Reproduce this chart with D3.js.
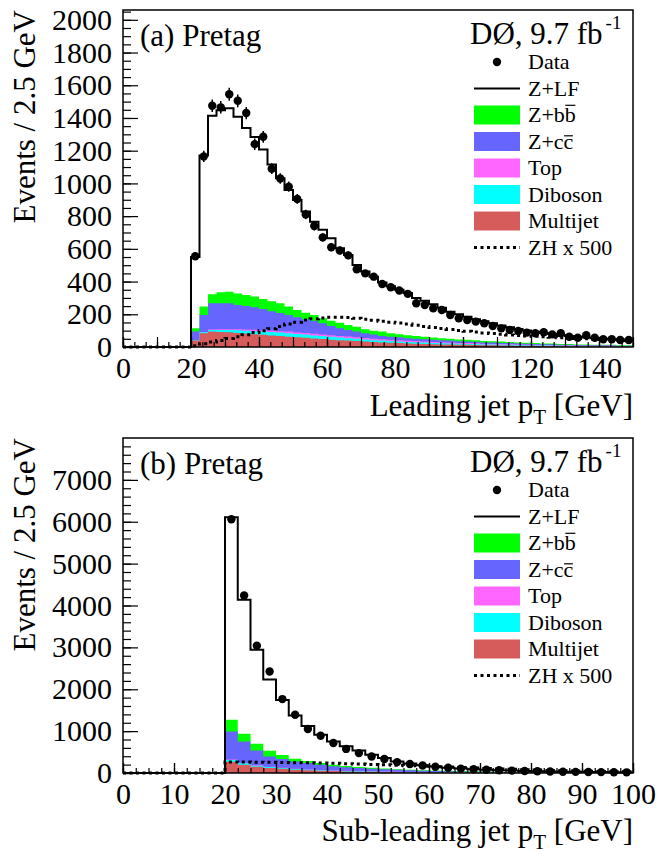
<!DOCTYPE html>
<html>
<head>
<meta charset="utf-8">
<script src="https://cdn.jsdelivr.net/npm/d3@7"></script>
<style>
  html, body { margin: 0; padding: 0; background: #fff; }
  svg { display: block; }
</style>
</head>
<body>
<svg id="chart" width="660" height="856"></svg>
<script>
// ---- Leading jet pT: 2.5 GeV bins, 0-150 GeV ----
const binWidth = 2.5;
const leadData = [0,0,0,0,0,0,0,0,
  555,1165,1475,1465,1545,1505,1430,1240,1285,1090,1030,980,905,810,740,670,610,590,560,475,450,430,
  385,365,345,325,267,257,236,226,196,175,165,155,145,128,114,104,98,88,84,90,77,84,63,57,72,57,47,47,43,43];
const leadMultijet = [0,0,0,0,0,0,0,0,
  39,84,94,92,90,86,82,78,75,71,67,63,59,56,52,49,45,42,39,36,33,30,
  28,26,24,22,20,19,17,16,15,14,13,12,11,10,9,9,8,7,7,6,6,5,5,4,4,4,3,3,3,3];
const leadDiboson = [0,0,0,0,0,0,0,0,
  3,6,10,12,14,16,18,19,20,21,21,21,20,20,19,18,17,16,15,14,13,12,
  11,10,10,9,9,8,8,7,7,6,6,6,5,5,5,4,4,4,3,3,3,3,3,2,2,2,2,2,2,2];
const leadTop = [0,0,0,0,0,0,0,0,
  1,2,3,4,5,6,7,8,8,9,9,10,10,10,10,10,10,10,10,9,9,9,
  8,8,8,7,7,7,6,6,6,5,5,5,4,4,4,4,3,3,3,3,3,2,2,2,2,2,2,2,1,1];
const leadZcc = [0,0,0,0,0,0,0,0,
  51,104,160,159,158,149,144,138,129,117,111,102,93,83,80,68,56,46,40,35,29,26,
  20,19,17,16,15,14,13,12,11,10,10,9,8,8,7,7,6,6,5,5,5,4,4,4,3,3,3,3,2,2];
const leadZbb = [0,0,0,0,0,0,0,0,
  20,51,55,68,71,70,67,65,62,62,59,51,44,41,35,30,33,35,30,30,24,23,
  27,21,19,18,16,15,14,13,12,11,10,10,9,8,8,7,7,6,6,5,5,5,4,4,4,3,3,3,3,3];
const leadZLF = [0,0,0,0,0,0,0,0,
  436,923,1091,1112,1122,1081,1020,975,913,836,765,713,673,618,570,541,504,455,429,378,353,330,
  301,288,272,258,233,219,204,186,165,154,141,128,121,110,99,89,82,75,69,64,58,55,50,47,43,40,37,34,33,30];
const leadZH = [0,0,0,0,0,0,0,0,
  8,20,30,40,52,62,75,88,100,112,125,140,152,165,172,178,182,182,180,176,170,164,
  158,152,146,140,133,126,119,113,107,101,96,91,86,82,78,74,71,68,65,62,59,57,55,52,50,48,46,44,42,40];

// ---- Sub-leading jet pT: 2.5 GeV bins, 0-100 GeV ----
const subData = [0,0,0,0,0,0,0,0,
  6060,4240,3040,2425,1765,1390,1050,890,715,575,475,395,335,260,215,180,150,125,105,90,
  76,65,56,48,42,36,31,27,24,21,18,16];
const subMultijet = [0,0,0,0,0,0,0,0,
  270,200,150,120,100,80,65,55,45,38,32,27,23,20,17,15,13,11,10,9,8,7,6,5,5,4,4,3,3,3,2,2];
const subDiboson = [0,0,0,0,0,0,0,0,
  40,30,25,22,18,16,14,12,10,9,8,7,6,5,5,4,4,3,3,3,2,2,2,2,2,1,1,1,1,1,1,1];
const subTop = [0,0,0,0,0,0,0,0,
  10,8,8,8,8,8,7,7,6,6,5,5,4,4,4,3,3,3,3,2,2,2,2,2,1,1,1,1,1,1,1,1];
const subZcc = [0,0,0,0,0,0,0,0,
  673,517,357,247,208,173,153,125,99,87,75,64,55,46,39,33,28,24,20,17,15,13,11,10,9,8,7,6,5,5,4,4];
const subZbb = [0,0,0,0,0,0,0,0,
  279,183,160,135,95,62,45,40,36,30,25,22,20,17,15,13,11,10,9,8,7,6,5,5,4,4,3,3,3,2,2,2];
const subZLF = [0,0,0,0,0,0,0,0,
  4838,3198,2243,1703,1312,1034,836,675,556,466,395,312,250,183,145,118,95,77,63,52,
  44,37,31,25,22,19,16,14,11,9,9,7];
const subZH = [0,0,0,0,0,0,0,0,
  265,262,258,254,250,246,242,236,230,222,214,205,195,185,174,163,152,141,130,119,
  108,98,88,79,70,62,55,48,42,37,32,28];

// ---- Axis tick values ----
const leadYTicks = [0,200,400,600,800,1000,1200,1400,1600,1800,2000];
const leadXTicks = [0,20,40,60,80,100,120,140];
const subYTicks = [0,1000,2000,3000,4000,5000,6000,7000];
const subXTicks = [0,10,20,30,40,50,60,70,80,90,100];

// ---- Legend ----
const legendEntries = [
  {key: 'data', label: 'Data'},
  {key: 'zlf', label: 'Z+LF'},
  {key: 'zbb', label: 'Z+bb', bar: 'b'},
  {key: 'zcc', label: 'Z+cc', bar: 'c'},
  {key: 'top', label: 'Top'},
  {key: 'diboson', label: 'Diboson'},
  {key: 'multijet', label: 'Multijet'},
  {key: 'zh', label: 'ZH x 500'}
];

const FONT = "'Liberation Serif','Times New Roman',Times,serif";
const colors = {
  multijet: '#d65b5b', diboson: '#00ffff', top: '#ff66ff',
  zcc: '#6666ff', zbb: '#00ff00', zlf: '#ffffff'
};
const stackKeys = ['multijet', 'diboson', 'top', 'zcc', 'zbb', 'zlf'];

const svg = d3.select('#chart');

const panels = [
  {
    tag: '(a) Pretag', xTitle: 'Leading jet p', xMax: 150, yMax: 2060,
    yTop: 10, yBottom: 347,
    data: leadData, multijet: leadMultijet, diboson: leadDiboson, top: leadTop,
    zcc: leadZcc, zbb: leadZbb, zlf: leadZLF, zh: leadZH,
    yTicks: leadYTicks, yMinorStep: 50, xTicks: leadXTicks, xMidStep: 10, xMinorStep: 10 / 3,
    xTitleY: 416
  },
  {
    tag: '(b) Pretag', xTitle: 'Sub-leading jet p', xMax: 100, yMax: 8000,
    yTop: 438, yBottom: 773,
    data: subData, multijet: subMultijet, diboson: subDiboson, top: subTop,
    zcc: subZcc, zbb: subZbb, zlf: subZLF, zh: subZH,
    yTicks: subYTicks, yMinorStep: 200, xTicks: subXTicks, xMidStep: 10, xMinorStep: 2.5,
    xTitleY: 841
  }
];

function drawPanel(p) {
  const g = svg.append('g');
  const left = 123, right = 633;
  const x = d3.scaleLinear().domain([0, p.xMax]).range([left, right]);
  const y = d3.scaleLinear().domain([0, p.yMax]).range([p.yBottom, p.yTop]);
  const n = p.data.length;
  const edges = d3.range(n + 1).map(i => i * binWidth);

  // stacked backgrounds
  const rows = p.data.map((_, i) => {
    const r = {};
    stackKeys.forEach(k => { r[k] = p[k][i]; });
    return r;
  });
  const series = d3.stack().keys(stackKeys)(rows);
  const area = d3.area().curve(d3.curveStepAfter)
    .x(d => x(d.e)).y0(y(0)).y1(d => y(d.v));
  const stepLine = d3.line().curve(d3.curveStepAfter)
    .x(d => x(d.e)).y(d => y(d.v));
  const edgePts = vals => edges.map((e, i) => ({e, v: vals[Math.min(i, n - 1)]}));

  series.slice().reverse().forEach(s => {
    g.append('path')
      .attr('d', area(edgePts(s.map(d => d[1]))))
      .attr('fill', colors[s.key]);
  });

  // total prediction outline
  const total = series[series.length - 1].map(d => d[1]);
  g.append('path')
    .attr('d', stepLine(edgePts(total)))
    .attr('fill', 'none').attr('stroke', '#000').attr('stroke-width', 2);

  // ZH signal (scaled)
  g.append('path')
    .attr('d', stepLine(edgePts(p.zh)))
    .attr('fill', 'none').attr('stroke', '#000').attr('stroke-width', 3)
    .attr('stroke-dasharray', '3,3.5');

  // data points with statistical error bars
  const pts = p.data.map((v, i) => ({c: (i + 0.5) * binWidth, v})).filter(d => d.v > 0);
  g.append('g').selectAll('line').data(pts).join('line')
    .attr('x1', d => x(d.c)).attr('x2', d => x(d.c))
    .attr('y1', d => y(d.v - Math.sqrt(d.v))).attr('y2', d => y(d.v + Math.sqrt(d.v)))
    .attr('stroke', '#000').attr('stroke-width', 1.5);
  g.append('g').selectAll('circle').data(pts).join('circle')
    .attr('cx', d => x(d.c)).attr('cy', d => y(d.v)).attr('r', 4.2)
    .attr('fill', '#000');

  // frame
  g.append('rect')
    .attr('x', left).attr('y', p.yTop)
    .attr('width', right - left).attr('height', p.yBottom - p.yTop)
    .attr('fill', 'none').attr('stroke', '#000').attr('stroke-width', 1.5);

  // axes
  const styleAxis = sel => {
    sel.select('.domain').remove();
    sel.selectAll('line').attr('stroke', '#000').attr('stroke-width', 1.2);
    sel.selectAll('text').attr('font-family', FONT).attr('font-size', 30).attr('fill', '#000');
  };
  g.append('g').attr('transform', `translate(${left},0)`)
    .call(d3.axisLeft(y).tickValues(d3.range(0, p.yMax, p.yMinorStep))
      .tickSizeInner(-8).tickSizeOuter(0).tickFormat(''))
    .call(styleAxis);
  g.append('g').attr('transform', `translate(${left},0)`)
    .call(d3.axisLeft(y).tickValues(p.yTicks)
      .tickSizeInner(-15).tickSizeOuter(0).tickPadding(11).tickFormat(d3.format('d')))
    .call(styleAxis);

  g.append('g').attr('transform', `translate(0,${p.yBottom})`)
    .call(d3.axisBottom(x).tickValues(d3.range(0, p.xMax + 0.001, p.xMinorStep))
      .tickSizeInner(-5).tickSizeOuter(0).tickFormat(''))
    .call(styleAxis);
  g.append('g').attr('transform', `translate(0,${p.yBottom})`)
    .call(d3.axisBottom(x).tickValues(d3.range(0, p.xMax + 0.001, p.xMidStep))
      .tickSizeInner(-10).tickSizeOuter(0).tickFormat(''))
    .call(styleAxis);
  g.append('g').attr('transform', `translate(0,${p.yBottom})`)
    .call(d3.axisBottom(x).tickValues(p.xTicks)
      .tickSizeInner(-10).tickSizeOuter(0).tickPadding(10).tickFormat(d3.format('d')))
    .call(styleAxis);

  // axis titles
  g.append('text')
    .attr('transform', `translate(35,${p.yTop}) rotate(-90)`)
    .attr('text-anchor', 'end')
    .attr('font-family', FONT).attr('font-size', 31)
    .text('Events / 2.5 GeV');

  const xt = g.append('text')
    .attr('x', right).attr('y', p.xTitleY)
    .attr('text-anchor', 'end')
    .attr('font-family', FONT).attr('font-size', 31);
  xt.append('tspan').text(p.xTitle);
  xt.append('tspan').attr('font-size', 21).attr('dy', 8).text('T');
  xt.append('tspan').attr('dy', -8).text(' [GeV]');

  // panel tag
  g.append('text')
    .attr('x', 140).attr('y', p.yTop + 36)
    .attr('font-family', FONT).attr('font-size', 31)
    .text(p.tag);

  // experiment label
  const ex = g.append('text')
    .attr('x', 470).attr('y', p.yTop + 34)
    .attr('font-family', FONT).attr('font-size', 31);
  ex.append('tspan').text('DØ, 9.7 fb');
  ex.append('tspan').attr('font-size', 19).attr('dx', 3).attr('dy', -15).text('-1');

  // legend
  const lg = g.append('g');
  legendEntries.forEach((ent, i) => {
    const cy = p.yTop + 52 + i * 26.5;
    if (ent.key === 'data') {
      lg.append('circle').attr('cx', 497).attr('cy', cy).attr('r', 4.2).attr('fill', '#000');
    } else if (ent.key === 'zlf') {
      lg.append('line').attr('x1', 474).attr('x2', 520).attr('y1', cy).attr('y2', cy)
        .attr('stroke', '#000').attr('stroke-width', 2);
    } else if (ent.key === 'zh') {
      lg.append('line').attr('x1', 474).attr('x2', 520).attr('y1', cy).attr('y2', cy)
        .attr('stroke', '#000').attr('stroke-width', 3).attr('stroke-dasharray', '3,3.5');
    } else {
      lg.append('rect').attr('x', 474).attr('y', cy - 9.5).attr('width', 46).attr('height', 19)
        .attr('fill', colors[ent.key]);
    }
    const t = lg.append('text')
      .attr('x', 528).attr('y', cy + 7.3)
      .attr('font-family', FONT).attr('font-size', 22)
      .text(ent.label);
    if (ent.bar) {
      const ext = t.node().getExtentOfChar(ent.label.length - 1);
      const lift = ent.bar === 'b' ? 17 : 13;
      lg.append('line')
        .attr('x1', ext.x + 0.5).attr('x2', ext.x + ext.width - 0.5)
        .attr('y1', cy + 7.3 - lift).attr('y2', cy + 7.3 - lift)
        .attr('stroke', '#000').attr('stroke-width', 1.2);
    }
  });
}

panels.forEach(drawPanel);
</script>
</body>
</html>
